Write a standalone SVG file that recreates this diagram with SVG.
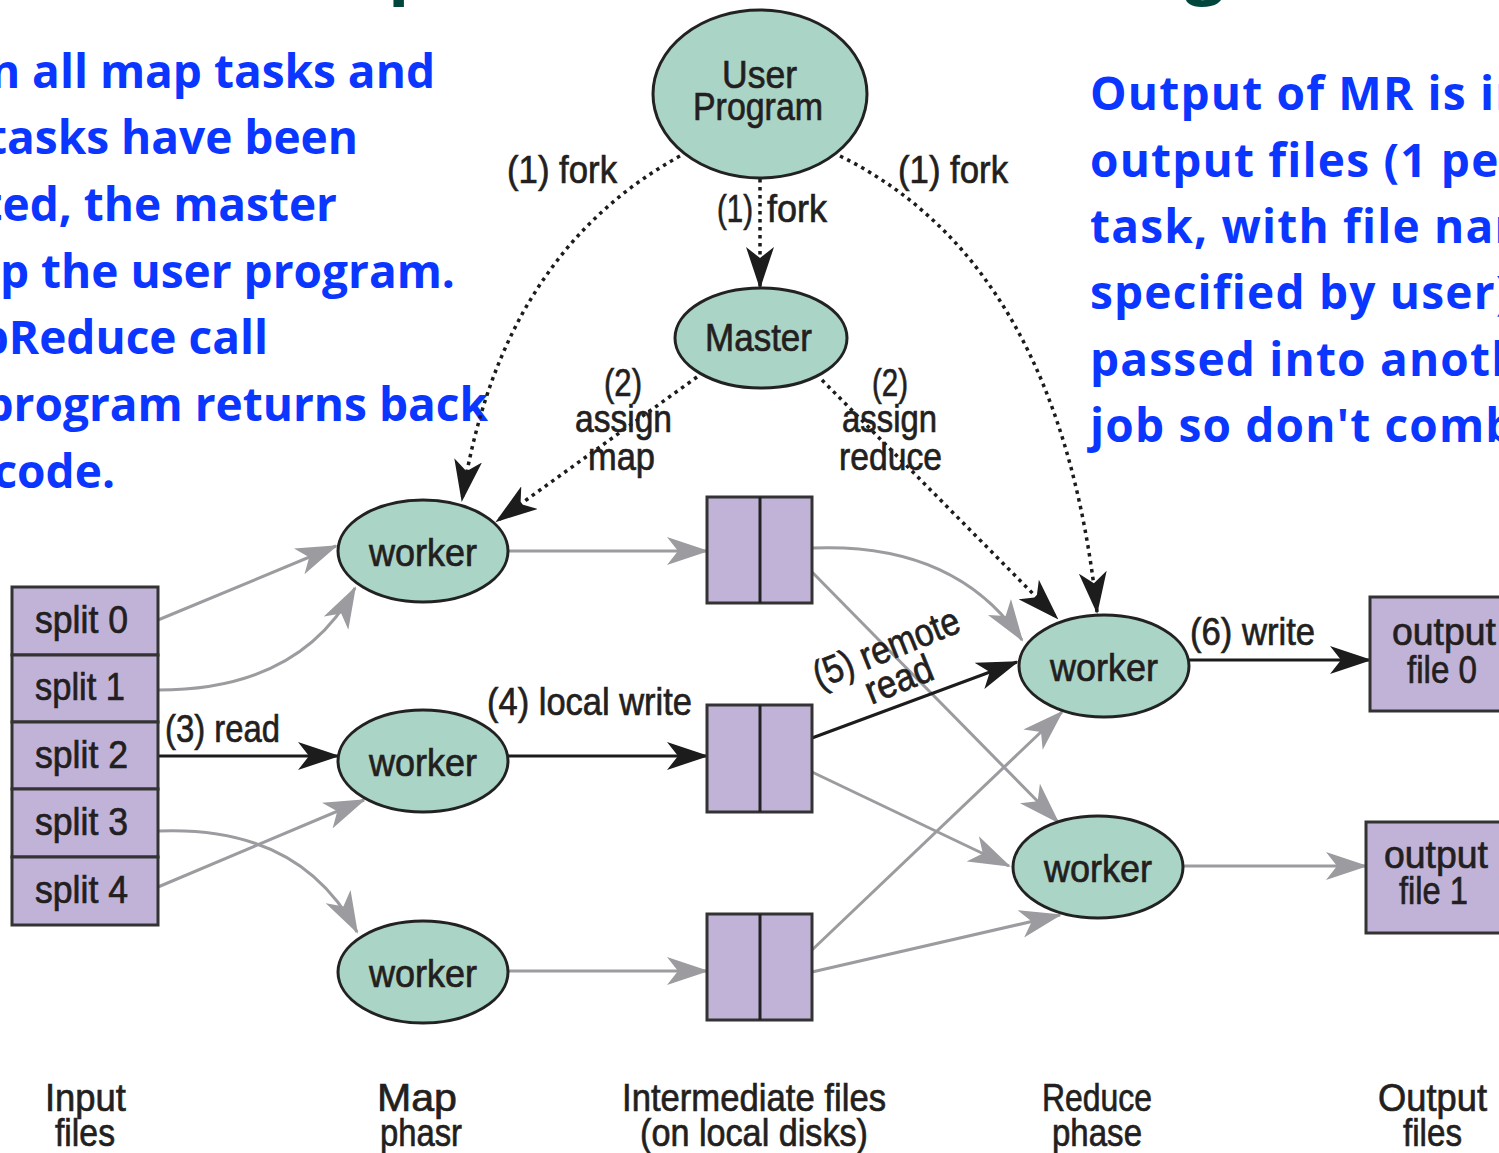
<svg xmlns="http://www.w3.org/2000/svg" width="1499" height="1153" viewBox="0 0 1499 1153">
  <style>
    .note { font-family: "Open Sans", "DejaVu Sans", sans-serif; font-weight: 700; font-size: 46px; fill: #0a36ff; }
    .noteR { letter-spacing: 1.2px; }
    .title { font-family: "Open Sans", "DejaVu Sans", sans-serif; font-weight: 700; font-size: 70px; fill: #00463c; }
    .lbl { font-family: "Liberation Sans", Arial, sans-serif; font-size: 39px; fill: #231f20; stroke: #231f20; stroke-width: 0.7px; }
    .mid { text-anchor: middle; }
    .oval { fill: #aad4c6; stroke: #222; stroke-width: 3; }
    .file { fill: #c1b3d8; stroke: #333; stroke-width: 3; }
    .gray { fill: none; stroke: #9b9ba0; stroke-width: 3; }
    .black { fill: none; stroke: #1c1c1c; stroke-width: 3; }
    .dots { fill: none; stroke: #1c1c1c; stroke-width: 3.5; stroke-dasharray: 3.5 4.5; }
  </style>
  <defs>
    <marker id="headGray" markerUnits="userSpaceOnUse" viewBox="0 0 42 28" markerWidth="42" markerHeight="28" refX="40" refY="14" orient="auto">
      <path d="M0,0 L42,14 L0,28 L11,14 Z" fill="#9b9ba0"/>
    </marker>
    <marker id="headBlack" markerUnits="userSpaceOnUse" viewBox="0 0 42 28" markerWidth="42" markerHeight="28" refX="40" refY="14" orient="auto">
      <path d="M0,0 L42,14 L0,28 L11,14 Z" fill="#1c1c1c"/>
    </marker>
  </defs>

  <rect width="1499" height="1153" fill="#ffffff"/>

  <!-- heading line above the frame; only its descenders reach the page -->
  <g id="heading">
    <text class="title" x="388" y="-10">p</text>
    <text class="title" x="1185" y="-10">g</text>
  </g>

  <!-- side notes -->
  <g id="note-left">
    <text class="note" text-anchor="end" x="435" y="88">When all map tasks and</text>
    <text class="note" text-anchor="end" x="358" y="154">reduce tasks have been</text>
    <text class="note" text-anchor="end" x="337" y="221">completed, the master</text>
    <text class="note" text-anchor="end" x="455" y="288">wakes up the user program.</text>
    <text class="note" text-anchor="end" x="268" y="354">The MapReduce call</text>
    <text class="note" text-anchor="end" x="488" y="421">in the user program returns back</text>
    <text class="note" text-anchor="end" x="115" y="488">to the user code.</text>
  </g>
  <g id="note-right">
    <text class="note noteR" x="1090" y="110">Output of MR is in R</text>
    <text class="note noteR" x="1090" y="177">output files (1 per reduce</text>
    <text class="note noteR" x="1090" y="243">task, with file names</text>
    <text class="note noteR" x="1090" y="309">specified by user). Often</text>
    <text class="note noteR" x="1090" y="376">passed into another MR</text>
    <text class="note noteR" x="1090" y="442">job so don't combine</text>
  </g>

  <!-- connectors -->
  <g id="connectors">
    <!-- (1) fork -->
    <path class="dots" d="M760,179 L760,287" marker-end="url(#headBlack)"/>
    <path class="dots" d="M680,156 Q500,255 462,500" marker-end="url(#headBlack)"/>
    <path class="dots" d="M840,156 Q1060,265 1097,612" marker-end="url(#headBlack)"/>
    <!-- (2) assign -->
    <path class="dots" d="M697,377 L497,521" marker-end="url(#headBlack)"/>
    <path class="dots" d="M822,380 L1057,618" marker-end="url(#headBlack)"/>
    <!-- (3) read -->
    <path class="gray" d="M158,620 L336,546" marker-end="url(#headGray)"/>
    <path class="gray" d="M158,690 Q300,690 355,588" marker-end="url(#headGray)"/>
    <path class="black" d="M155,756 L338,756" marker-end="url(#headBlack)"/>
    <path class="gray" d="M158,831 Q300,825 357,932" marker-end="url(#headGray)"/>
    <path class="gray" d="M158,887 L364,800" marker-end="url(#headGray)"/>
    <!-- (4) local write -->
    <path class="gray" d="M508,551 L707,551" marker-end="url(#headGray)"/>
    <path class="black" d="M508,756 L707,756" marker-end="url(#headBlack)"/>
    <path class="gray" d="M508,971 L707,971" marker-end="url(#headGray)"/>
    <!-- (5) remote read -->
    <path class="gray" d="M812,548 Q955,542 1022,640" marker-end="url(#headGray)"/>
    <path class="gray" d="M812,572 L1058,822" marker-end="url(#headGray)"/>
    <path class="black" d="M812,738 L1017,662" marker-end="url(#headBlack)"/>
    <path class="gray" d="M812,772 L1009,866" marker-end="url(#headGray)"/>
    <path class="gray" d="M812,950 L1062,712" marker-end="url(#headGray)"/>
    <path class="gray" d="M812,972 L1060,915" marker-end="url(#headGray)"/>
    <!-- (6) write -->
    <path class="black" d="M1189,660 L1370,660" marker-end="url(#headBlack)"/>
    <path class="gray" d="M1183,866 L1366,866" marker-end="url(#headGray)"/>
  </g>

  <!-- connector labels -->
  <g id="edge-labels" class="lbl">
    <text x="507" y="183" textLength="110" lengthAdjust="spacingAndGlyphs">(1) fork</text>
    <text x="898" y="183" textLength="110" lengthAdjust="spacingAndGlyphs">(1) fork</text>
    <text y="222"><tspan x="717" textLength="36" lengthAdjust="spacingAndGlyphs">(1)</tspan> <tspan x="767" textLength="60" lengthAdjust="spacingAndGlyphs">fork</tspan></text>
    <text x="604" y="396" textLength="38" lengthAdjust="spacingAndGlyphs">(2)</text>
    <text x="575" y="432" textLength="97" lengthAdjust="spacingAndGlyphs">assign</text>
    <text x="588" y="470" textLength="67" lengthAdjust="spacingAndGlyphs">map</text>
    <text x="872" y="396" textLength="36" lengthAdjust="spacingAndGlyphs">(2)</text>
    <text x="842" y="432" textLength="95" lengthAdjust="spacingAndGlyphs">assign</text>
    <text x="839" y="470" textLength="103" lengthAdjust="spacingAndGlyphs">reduce</text>
    <text x="165" y="742" textLength="115" lengthAdjust="spacingAndGlyphs">(3) read</text>
    <text x="487" y="715" textLength="205" lengthAdjust="spacingAndGlyphs">(4) local write</text>
    <g transform="translate(891,660) rotate(-22)">
      <text class="mid" x="0" y="0" textLength="155" lengthAdjust="spacingAndGlyphs">(5) remote</text>
      <text class="mid" x="0" y="34" textLength="70" lengthAdjust="spacingAndGlyphs">read</text>
    </g>
    <text x="1190" y="645" textLength="125" lengthAdjust="spacingAndGlyphs">(6) write</text>
  </g>

  <!-- nodes -->
  <g id="user-program">
    <ellipse class="oval" cx="760" cy="94" rx="107" ry="84"/>
    <text class="lbl" x="722" y="88" textLength="75" lengthAdjust="spacingAndGlyphs">User</text>
    <text class="lbl" x="693" y="120" textLength="130" lengthAdjust="spacingAndGlyphs">Program</text>
  </g>
  <g id="master">
    <ellipse class="oval" cx="761" cy="338" rx="86" ry="50"/>
    <text class="lbl" x="705" y="351" textLength="107" lengthAdjust="spacingAndGlyphs">Master</text>
  </g>

  <g id="split-0"><rect class="file" x="12" y="587" width="146" height="68"/><text class="lbl" x="35" y="633" textLength="93" lengthAdjust="spacingAndGlyphs">split 0</text></g>
  <g id="split-1"><rect class="file" x="12" y="655" width="146" height="67"/><text class="lbl" x="35" y="700" textLength="90" lengthAdjust="spacingAndGlyphs">split 1</text></g>
  <g id="split-2"><rect class="file" x="12" y="722" width="146" height="67"/><text class="lbl" x="35" y="768" textLength="93" lengthAdjust="spacingAndGlyphs">split 2</text></g>
  <g id="split-3"><rect class="file" x="12" y="789" width="146" height="68"/><text class="lbl" x="35" y="835" textLength="93" lengthAdjust="spacingAndGlyphs">split 3</text></g>
  <g id="split-4"><rect class="file" x="12" y="857" width="146" height="68"/><text class="lbl" x="35" y="903" textLength="93" lengthAdjust="spacingAndGlyphs">split 4</text></g>

  <g id="map-worker-0">
    <ellipse class="oval" cx="423" cy="551" rx="85" ry="51"/>
    <text class="lbl" x="369" y="566" textLength="108" lengthAdjust="spacingAndGlyphs">worker</text>
  </g>
  <g id="map-worker-1">
    <ellipse class="oval" cx="423" cy="761" rx="85" ry="51"/>
    <text class="lbl" x="369" y="776" textLength="108" lengthAdjust="spacingAndGlyphs">worker</text>
  </g>
  <g id="map-worker-2">
    <ellipse class="oval" cx="423" cy="972" rx="85" ry="51"/>
    <text class="lbl" x="369" y="987" textLength="108" lengthAdjust="spacingAndGlyphs">worker</text>
  </g>

  <g id="intermediate-0">
    <rect class="file" x="707" y="497" width="105" height="106"/>
    <line x1="760" y1="497" x2="760" y2="603" stroke="#222" stroke-width="3"/>
  </g>
  <g id="intermediate-1">
    <rect class="file" x="707" y="705" width="105" height="107"/>
    <line x1="760" y1="705" x2="760" y2="812" stroke="#222" stroke-width="3"/>
  </g>
  <g id="intermediate-2">
    <rect class="file" x="707" y="914" width="105" height="106"/>
    <line x1="760" y1="914" x2="760" y2="1020" stroke="#222" stroke-width="3"/>
  </g>

  <g id="reduce-worker-0">
    <ellipse class="oval" cx="1104" cy="666" rx="85" ry="51"/>
    <text class="lbl" x="1050" y="681" textLength="108" lengthAdjust="spacingAndGlyphs">worker</text>
  </g>
  <g id="reduce-worker-1">
    <ellipse class="oval" cx="1098" cy="867" rx="85" ry="51"/>
    <text class="lbl" x="1044" y="882" textLength="108" lengthAdjust="spacingAndGlyphs">worker</text>
  </g>

  <g id="output-file-0">
    <rect class="file" x="1370" y="597" width="150" height="114"/>
    <text class="lbl" x="1392" y="645" textLength="104" lengthAdjust="spacingAndGlyphs">output</text>
    <text class="lbl" x="1407" y="683" textLength="70" lengthAdjust="spacingAndGlyphs">file 0</text>
  </g>
  <g id="output-file-1">
    <rect class="file" x="1366" y="822" width="150" height="111"/>
    <text class="lbl" x="1384" y="868" textLength="104" lengthAdjust="spacingAndGlyphs">output</text>
    <text class="lbl" x="1399" y="904" textLength="69" lengthAdjust="spacingAndGlyphs">file 1</text>
  </g>

  <!-- phase captions -->
  <g id="captions" class="lbl">
    <text x="45" y="1111" textLength="81" lengthAdjust="spacingAndGlyphs">Input</text>
    <text x="55" y="1146" textLength="60" lengthAdjust="spacingAndGlyphs">files</text>
    <text x="377" y="1111" textLength="80" lengthAdjust="spacingAndGlyphs">Map</text>
    <text x="380" y="1146" textLength="82" lengthAdjust="spacingAndGlyphs">phasr</text>
    <text x="622" y="1111" textLength="264" lengthAdjust="spacingAndGlyphs">Intermediate files</text>
    <text x="640" y="1146" textLength="228" lengthAdjust="spacingAndGlyphs">(on local disks)</text>
    <text x="1042" y="1111" textLength="110" lengthAdjust="spacingAndGlyphs">Reduce</text>
    <text x="1052" y="1146" textLength="90" lengthAdjust="spacingAndGlyphs">phase</text>
    <text x="1378" y="1111" textLength="109" lengthAdjust="spacingAndGlyphs">Output</text>
    <text x="1403" y="1146" textLength="59" lengthAdjust="spacingAndGlyphs">files</text>
  </g>
</svg>
